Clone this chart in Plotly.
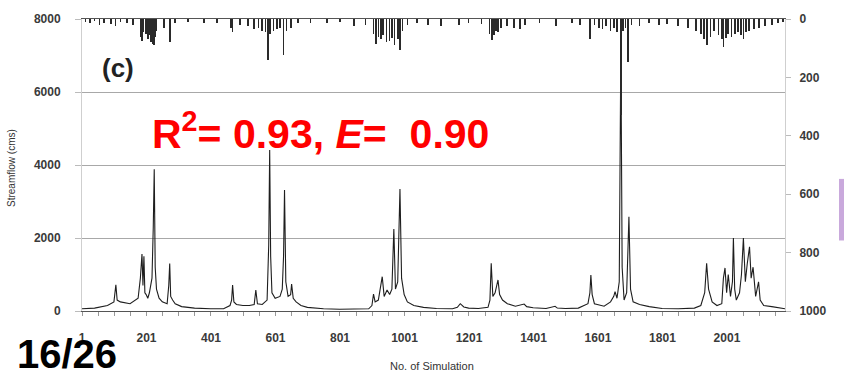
import plotly.graph_objects as go

# Streamflow hydrograph breakpoints (simulation index, cms)
flow_idx = [1, 40, 80, 100, 106, 110, 120, 150, 175, 182, 187, 190, 193, 196, 200, 205, 210, 218, 222, 225,
            228, 232, 240, 250, 265, 270, 273, 276, 282, 290, 310, 350, 400, 440, 460, 465, 468, 472, 480, 500,
            520, 535, 540, 545, 560, 575, 580, 583, 586, 590, 600, 615, 622, 626, 629, 633, 640, 648, 651, 656,
            665, 680, 700, 750, 800, 850, 890, 900, 905, 910, 920, 932, 938, 947, 955, 962, 968, 973, 980, 987,
            992, 1000, 1010, 1030, 1060, 1100, 1150, 1165, 1174, 1185, 1200, 1230, 1260, 1266, 1270, 1275, 1282, 1291, 1296, 1305,
            1320, 1345, 1372, 1380, 1400, 1440, 1468, 1475, 1500, 1540, 1570, 1576, 1579, 1583, 1590, 1620, 1640, 1650, 1654, 1660,
            1667, 1672, 1676, 1682, 1690, 1697, 1702, 1710, 1730, 1760, 1800, 1850, 1900, 1920, 1932, 1938, 1944, 1955, 1970, 1985,
            1990, 1995, 2000, 2005, 2012, 2018, 2021, 2025, 2030, 2040, 2046, 2052, 2058, 2064, 2071, 2076, 2082, 2090, 2099, 2104,
            2115, 2140, 2160, 2181]
flow_cms = [60, 80, 150, 250, 720, 300, 250, 200, 350, 900, 1560, 700, 1500, 500, 450, 350, 500, 900, 2300, 3880,
            1200, 600, 350, 250, 200, 700, 1300, 400, 300, 200, 120, 80, 60, 60, 150, 300, 710, 250, 180, 150,
            150, 180, 575, 200, 180, 300, 1800, 4410, 1500, 500, 350, 400, 600, 1500, 3315, 800, 400, 450, 740, 350,
            250, 150, 100, 60, 50, 50, 60, 150, 465, 250, 300, 940, 400, 575, 450, 600, 2245, 600, 800, 3340,
            900, 450, 250, 150, 100, 70, 60, 100, 200, 110, 80, 70, 100, 300, 1310, 400, 500, 850, 450, 300,
            200, 130, 190, 120, 90, 70, 130, 80, 70, 80, 200, 500, 985, 450, 200, 130, 250, 400, 530, 350,
            800, 7300, 1200, 300, 500, 2585, 600, 250, 180, 120, 70, 60, 80, 150, 500, 1310, 600, 250, 150, 200,
            900, 1180, 500, 1000, 400, 800, 2000, 600, 300, 500, 1000, 2000, 800, 1300, 1760, 900, 1200, 400, 800, 300,
            150, 120, 100, 60]

# Rainfall events (simulation index, mm) plotted downward on the right axis
rain_idx = [12, 25, 40, 55, 70, 90, 105, 120, 140, 160, 184, 188, 192, 200, 205, 210, 215, 220, 224, 228,
            232, 255, 273, 290, 330, 380, 420, 462, 468, 490, 515, 535, 548, 560, 570, 577, 585, 595, 605, 615,
            626, 635, 650, 670, 710, 760, 800, 845, 880, 905, 912, 920, 928, 935, 945, 955, 962, 970, 980, 987,
            995, 1010, 1040, 1075, 1115, 1170, 1200, 1240, 1265, 1272, 1278, 1285, 1292, 1300, 1320, 1340, 1360, 1375, 1420, 1470,
            1520, 1545, 1577, 1590, 1605, 1615, 1625, 1640, 1650, 1660, 1672, 1679, 1686, 1695, 1705, 1730, 1760, 1790, 1815, 1850,
            1880, 1905, 1920, 1930, 1940, 1950, 1960, 1975, 1985, 1990, 1998, 2005, 2015, 2025, 2035, 2045, 2052, 2060, 2070, 2085,
            2100, 2120, 2140, 2160, 2175]
rain_mm = [10, 15, 8, 20, 12, 18, 25, 10, 15, 20, 60, 75, 45, 50, 70, 55, 80, 85, 90, 60,
           40, 30, 78, 15, 10, 12, 15, 30, 45, 20, 25, 35, 30, 40, 45, 140, 50, 40, 35, 30,
           122, 40, 30, 15, 12, 15, 10, 25, 20, 50, 85, 60, 70, 55, 80, 75, 65, 88, 70, 105,
           40, 20, 15, 20, 25, 20, 15, 18, 50, 71, 55, 40, 45, 30, 25, 30, 35, 20, 15, 25,
           15, 20, 68, 20, 30, 35, 25, 40, 30, 45, 330, 40, 30, 146, 20, 25, 15, 20, 18, 25,
           30, 40, 50, 70, 88, 60, 40, 55, 70, 95, 65, 50, 60, 50, 45, 55, 68, 45, 40, 35,
           30, 25, 20, 15, 10]

x_tick_vals = list(range(1, 2182, 50))
x_tick_text = [str(v) if (v - 1) % 200 == 0 else "" for v in x_tick_vals]
y_ticks = [0, 2000, 4000, 6000, 8000]
rain_ticks = [0, 200, 400, 600, 800, 1000]

tick_font = dict(family="Liberation Sans, Arial", size=12, color="#3a3a3a", weight="bold")

fig = go.Figure()
fig.add_trace(go.Scatter(x=flow_idx, y=flow_cms, mode="lines",
                         line=dict(color="#1e1e1e", width=1.1), showlegend=False))
fig.add_trace(go.Bar(x=rain_idx, y=rain_mm, yaxis="y2", width=2.2,
                     marker=dict(color="#2a2a2a", line=dict(width=0)), showlegend=False))

fig.update_layout(
    width=844, height=375,
    margin=dict(l=82, r=59, t=17, b=64),
    paper_bgcolor="white", plot_bgcolor="white",
    bargap=0,
    xaxis=dict(range=[1, 2181], tickmode="array", tickvals=x_tick_vals, ticktext=x_tick_text,
               ticks="outside", ticklen=4, tickcolor="#999", tickfont=tick_font,
               ticklabelstandoff=12, mirror=True,
               showgrid=False, zeroline=False, showline=True, linecolor="#555", linewidth=1),
    yaxis=dict(range=[0, 8000], tickvals=y_ticks, ticks="outside", ticklen=6, tickcolor="#bbb",
               tickfont=tick_font, ticklabelstandoff=12,
               showgrid=True, gridcolor="#a8a8a8", gridwidth=1.2, zeroline=False,
               showline=True, linecolor="#cfcfcf", linewidth=1),
    yaxis2=dict(range=[1000, 0], overlaying="y", side="right", tickvals=rain_ticks,
                ticks="outside", ticklen=5, tickcolor="#bbb", tickfont=tick_font,
                ticklabelstandoff=6,
                showgrid=False, zeroline=False, showline=True, linecolor="#cfcfcf", linewidth=1),
    annotations=[
        dict(text="No. of Simulation", xref="paper", yref="paper", x=0.498, y=(311 - 366) / 294,
             showarrow=False, font=dict(family="Liberation Sans, Arial", size=11, color="#333"),
             xanchor="center", yanchor="middle"),
        dict(text="Streamflow (cms)", xref="paper", yref="paper", x=(12 - 82) / 703, y=(311 - 167) / 294,
             showarrow=False, textangle=-90, font=dict(family="Liberation Sans, Arial", size=10, color="#333"),
             xanchor="center", yanchor="middle"),
        dict(text="(c)", xref="paper", yref="paper", x=(100 - 82) / 703, y=(311 - 66) / 294,
             showarrow=False, font=dict(family="Liberation Sans, Arial", size=26, color="#222", weight="bold"),
             xanchor="left", yanchor="middle"),
        dict(text="R<sup>2</sup>= 0.93, <i>E</i>=&nbsp;&nbsp;0.90", xref="paper", yref="paper",
             x=(150 - 82) / 703, y=(311 - 130) / 294,
             showarrow=False, font=dict(family="Liberation Sans, Arial", size=41, color="#ff0000", weight="bold"),
             xanchor="left", yanchor="middle"),
        dict(text="16/26", xref="paper", yref="paper", x=(15 - 82) / 703, y=(311 - 354) / 294,
             showarrow=False, font=dict(family="Liberation Sans, Arial", size=40, color="#000", weight="bold"),
             xanchor="left", yanchor="middle"),
    ],
    shapes=[
        dict(type="rect", xref="paper", yref="paper", x0=(839 - 82) / 703, x1=(846 - 82) / 703,
             y0=(311 - 240) / 294, y1=(311 - 178) / 294, fillcolor="#c9a9dc", line=dict(width=0)),
    ],
)

fig.write_html("out.html")
